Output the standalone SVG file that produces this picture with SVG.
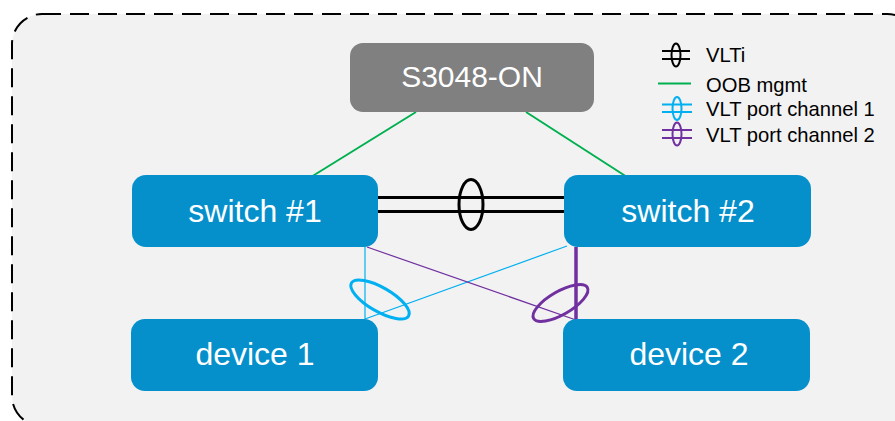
<svg xmlns="http://www.w3.org/2000/svg" width="895" height="421" viewBox="0 0 895 421">
<style>
.box{fill:#0590cc}
.lbl{font-family:"Liberation Sans",Arial,sans-serif;fill:#fff;text-anchor:middle}
.leg{font-family:"Liberation Sans",Arial,sans-serif;fill:#000;font-size:20.2px}
.blk{stroke:#000;fill:none}
.grn{stroke:#00b050;fill:none;stroke-width:2}
.blu{stroke:#00b0f0;fill:none}
.pur{stroke:#7030a0;fill:none}
</style>
<rect x="0" y="0" width="895" height="421" fill="#fff"/>
<rect x="12" y="14" width="905" height="412" rx="30" fill="#f2f2f2" stroke="#000" stroke-width="2" stroke-dasharray="19 9"/>
<g id="connectors">
  <line class="grn" x1="416" y1="112" x2="311" y2="177"/>
  <line class="grn" x1="526" y1="112" x2="627" y2="177"/>
  <line class="blk" stroke-width="3" x1="376" y1="197.5" x2="566" y2="197.5"/>
  <line class="blk" stroke-width="3" x1="376" y1="211.5" x2="566" y2="211.5"/>
  <ellipse class="blk" stroke-width="3" cx="471" cy="204.5" rx="12" ry="25"/>
  <line class="blu" stroke-width="1.2" x1="365" y1="247" x2="365" y2="319"/>
  <line class="blu" stroke-width="1.2" x1="365" y1="319" x2="567" y2="246"/>
  <line class="pur" stroke-width="1.2" x1="367" y1="247" x2="576" y2="320"/>
  <line class="pur" stroke-width="3.5" x1="576" y1="247" x2="576" y2="320"/>
  <ellipse class="blu" stroke-width="3" cx="380" cy="299.5" rx="33" ry="12" transform="rotate(30 380 299.5)"/>
  <ellipse class="pur" stroke-width="3" cx="560.5" cy="303" rx="31" ry="11.5" transform="rotate(-30 560.5 303)"/>
</g>
<g id="s3048">
  <rect x="350" y="43" width="244" height="69" rx="13" fill="#808080"/>
  <text class="lbl" x="472" y="87" font-size="30">S3048-ON</text>
</g>
<g id="switch1">
  <rect class="box" x="132" y="175" width="246" height="72" rx="14"/>
  <text class="lbl" x="255" y="222" font-size="32">switch #1</text>
</g>
<g id="switch2">
  <rect class="box" x="564" y="175" width="247" height="72" rx="14"/>
  <text class="lbl" x="688" y="222" font-size="32">switch #2</text>
</g>
<g id="device1">
  <rect class="box" x="131" y="319" width="247" height="72" rx="14"/>
  <text class="lbl" x="255" y="365" font-size="32">device 1</text>
</g>
<g id="device2">
  <rect class="box" x="563" y="319" width="247" height="72" rx="14"/>
  <text class="lbl" x="689" y="365" font-size="32">device 2</text>
</g>
<g id="legend">
  <line class="blk" stroke-width="2" x1="662" y1="51" x2="690" y2="51"/>
  <line class="blk" stroke-width="2" x1="662" y1="59" x2="690" y2="59"/>
  <ellipse class="blk" stroke-width="2" cx="676" cy="55" rx="4.5" ry="11.5"/>
  <text class="leg" x="706" y="62">VLTi</text>
  <line class="grn" x1="658" y1="83.5" x2="691" y2="83.5"/>
  <text class="leg" x="706" y="92">OOB mgmt</text>
  <line class="blu" stroke-width="2" x1="662" y1="104.5" x2="692" y2="104.5"/>
  <line class="blu" stroke-width="2" x1="662" y1="112" x2="692" y2="112"/>
  <ellipse class="blu" stroke-width="2" cx="677" cy="108.5" rx="4.5" ry="11.5"/>
  <text class="leg" x="706" y="116">VLT port channel 1</text>
  <line class="pur" stroke-width="2" x1="662" y1="130" x2="692" y2="130"/>
  <line class="pur" stroke-width="2" x1="662" y1="138" x2="692" y2="138"/>
  <ellipse class="pur" stroke-width="2" cx="677" cy="134" rx="4.5" ry="11.5"/>
  <text class="leg" x="706" y="142">VLT port channel 2</text>
</g>
</svg>
